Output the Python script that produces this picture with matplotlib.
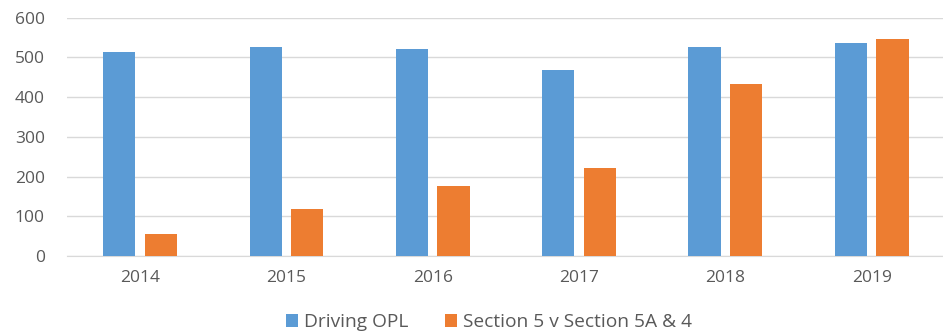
import matplotlib
matplotlib.use("Agg")
import matplotlib.pyplot as plt
import numpy as np

years = ["2014", "2015", "2016", "2017", "2018", "2019"]
driving_opl = [514, 525, 520, 467, 525, 537]
section5 = [55, 118, 177, 222, 433, 546]
series_names = ["Driving OPL", "Section 5 v Section 5A & 4"]
yticks = [0, 100, 200, 300, 400, 500, 600]

blue = "#5B9BD5"
orange = "#ED7D31"
grid = "#D9D9D9"
txt = "#595959"

plt.rcParams['font.family'] = ['Open Sans', 'DejaVu Sans']

fig = plt.figure(figsize=(9.43, 3.35), dpi=100)
W, H = 943, 335
left, right = 67, 944.8
top, bottom = 17.6, 256
ax = fig.add_axes([left / W, (H - bottom) / H, (right - left) / W, (bottom - top) / H])

x = np.arange(len(years))
off = 0.142
bw = 0.22
b1 = ax.bar(x - off, driving_opl, width=bw, color=blue, zorder=3, label=series_names[0])
b2 = ax.bar(x + off, section5, width=bw, color=orange, zorder=3, label=series_names[1])

ax.set_xlim(-0.5, len(years) - 0.5)
ax.set_ylim(0, 600)
ax.set_yticks(yticks)
ax.set_yticklabels([str(v) for v in yticks])
ax.set_xticks(x)
ax.set_xticklabels(years)
ax.yaxis.grid(True, color=grid, linewidth=1.0, zorder=0)
ax.set_axisbelow(True)
for s in ax.spines.values():
    s.set_visible(False)
ax.spines['bottom'].set_visible(True)
ax.spines['bottom'].set_color(grid)
ax.tick_params(axis='both', length=0, colors=txt, labelsize=12.5)
ax.tick_params(axis='y', pad=16)
ax.tick_params(axis='x', pad=10)

leg = fig.legend(handles=[b1, b2], labels=series_names, ncol=2, loc='center',
                 bbox_to_anchor=(489 / W, 1 - 322 / H), frameon=False, fontsize=13.8,
                 handlelength=0.65, handleheight=0.65, handletextpad=0.3, columnspacing=1.9,
                 borderpad=0)
for t in leg.get_texts():
    t.set_color(txt)

fig.savefig("out.png", dpi=100)
